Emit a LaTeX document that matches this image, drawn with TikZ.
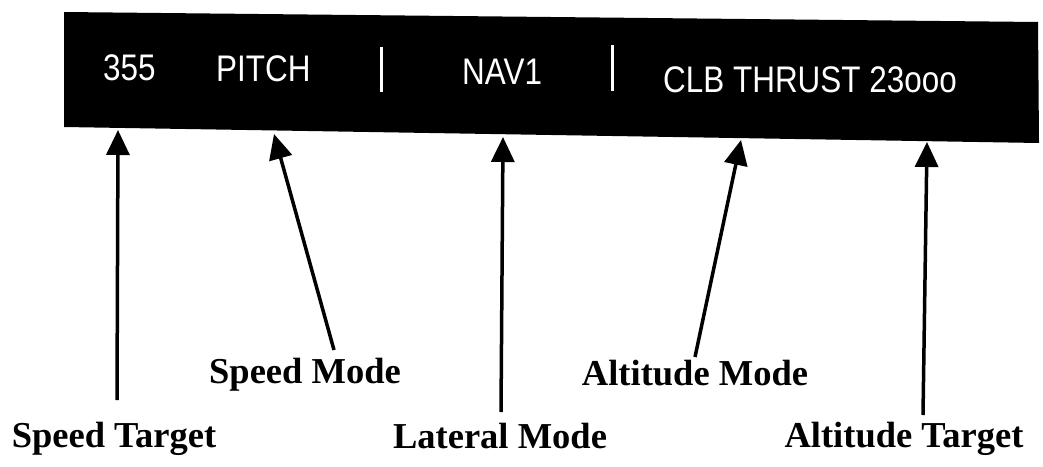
\documentclass[tikz,border=0pt]{standalone}
\usepackage{fontspec}
\setmainfont{Liberation Serif}
\newfontfamily\dispfont[FakeStretch=0.85]{Liberation Sans}
\usetikzlibrary{arrows.meta}
\begin{document}
\begin{tikzpicture}[x=1pt,y=-1pt,
  disptext/.style={text=white,font=\dispfont\fontsize{37}{40}\selectfont,anchor=base west,inner sep=0pt},
  divider/.style={white,line width=3pt},
  callout/.style={font=\bfseries\fontsize{36.5}{40}\selectfont,anchor=base,inner sep=0pt},
  pointer/.style={line width=3.5pt,-{Triangle[width=23pt,length=25pt]}}]
\useasboundingbox (0,0) rectangle (1043,466);
% annunciator strip
\fill[black] (64,12) -- (1038,22) -- (1039,143) -- (64,127) -- cycle;
\node[disptext] (spd) at (103,80) {355};
\node[disptext] (pitch) at (216,81) {PITCH};
\node[disptext] (nav) at (462,84) {NAV1};
\node[disptext] (clb) at (663,92) {CLB THRUST 23ooo};
\draw[divider] (381,47) -- (381,92);
\draw[divider] (612,45) -- (612,91);
% labels
\node[callout] (lst) at (114,447) {Speed Target};
\node[callout] (lsm) at (305,383) {Speed Mode};
\node[callout] (llm) at (500,448) {Lateral Mode};
\node[callout] (lam) at (695,385) {Altitude Mode};
\node[callout] (lat) at (904,447) {Altitude Target};
% arrow tips on the strip and line ends above the labels
\coordinate (tst) at (118,130);
\coordinate (sst) at (117,400);
\coordinate (tsm) at (274,134);
\coordinate (ssm) at (334,350);
\coordinate (tlm) at (503,137);
\coordinate (slm) at (501,412);
\coordinate (tam) at (741,140);
\coordinate (sam) at (695,357);
\coordinate (tat) at (927,142);
\coordinate (sat) at (923,415);
\draw[pointer] (sst) -- (tst);
\draw[pointer] (ssm) -- (tsm);
\draw[pointer] (slm) -- (tlm);
\draw[pointer] (sam) -- (tam);
\draw[pointer] (sat) -- (tat);
\end{tikzpicture}
\end{document}
